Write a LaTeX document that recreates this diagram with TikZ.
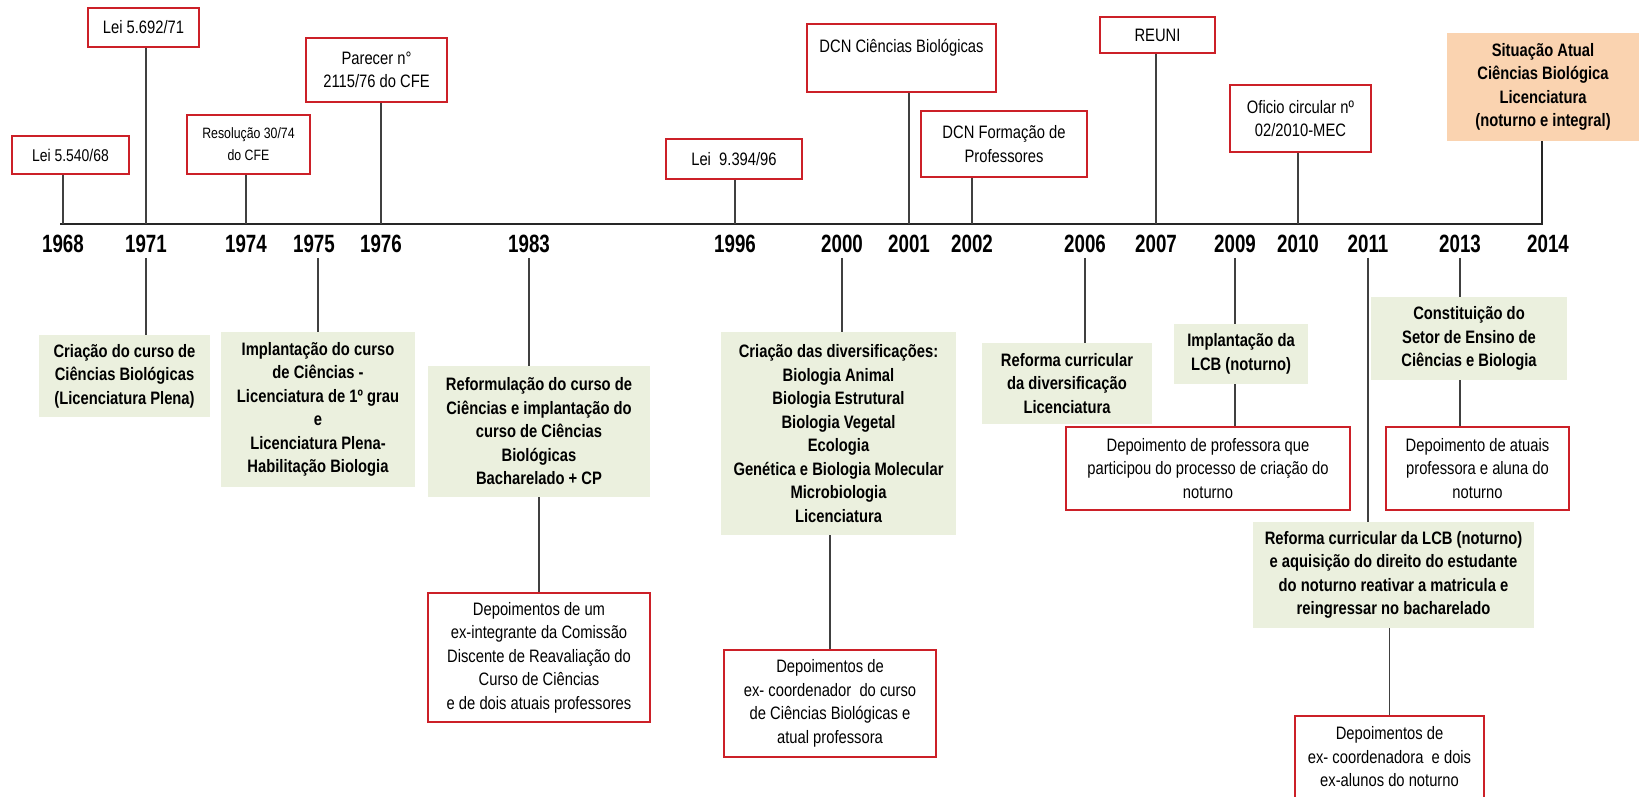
\documentclass[tikz,border=0pt]{standalone}
\usepackage{fontspec}
\setmainfont{Liberation Sans}[FakeStretch=0.82]
\newfontfamily\anofont{Liberation Sans}[FakeStretch=0.75]
\usepackage{tikz}

\definecolor{vermelho}{RGB}{204,32,40}
\definecolor{verde}{RGB}{235,240,222}
\definecolor{pessego}{RGB}{250,211,176}
\definecolor{linha}{RGB}{64,64,64}

\begin{document}
\begin{tikzpicture}[x=1pt,y=-1pt,
	marco/.style={rectangle,draw=vermelho,line width=1.6pt,fill=white,inner sep=0pt,align=center,font=\fontsize{18}{23.5}\selectfont},
	evento/.style={rectangle,fill=verde,inner sep=0pt,align=center,font=\fontsize{18}{23.5}\selectfont\bfseries},
	depo/.style={marco},
	ano/.style={inner sep=0pt,outer sep=5pt,font=\anofont\fontsize{25}{25}\selectfont\bfseries},
	liga/.style={draw=linha,line width=1.5pt}]
	\useasboundingbox (0,0) rectangle (1641,797);

	% linha do tempo
	\coordinate (T0) at (  60, 224);
	\coordinate (T1) at (1542, 224);

	% anos
	\node (a68) at (  63, 244) [ano] {1968};
	\node (a71) at ( 146, 244) [ano] {1971};
	\node (a74) at ( 246, 244) [ano] {1974};
	\node (a75) at ( 314, 244) [ano] {1975};
	\node (a76) at ( 381, 244) [ano] {1976};
	\node (a83) at ( 529, 244) [ano] {1983};
	\node (a96) at ( 735, 244) [ano] {1996};
	\node (a00) at ( 842, 244) [ano] {2000};
	\node (a01) at ( 909, 244) [ano] {2001};
	\node (a02) at ( 972, 244) [ano] {2002};
	\node (a06) at (1085, 244) [ano] {2006};
	\node (a07) at (1156, 244) [ano] {2007};
	\node (a09) at (1235, 244) [ano] {2009};
	\node (a10) at (1298, 244) [ano] {2010};
	\node (a11) at (1368, 244) [ano] {2011};
	\node (a13) at (1460, 244) [ano] {2013};
	\node (a14) at (1548, 244) [ano] {2014};

	% marcos legais (acima)
	\node (L68) at (  70.5, 155)   [marco,minimum width=117,minimum height=38,font=\fontsize{17}{21}\selectfont] {Lei 5.540/68};
	\node (L71) at ( 143.5,  27.5) [marco,minimum width=111,minimum height=39] {Lei 5.692/71};
	\node (R74) at ( 248.5, 144.5) [marco,minimum width=123,minimum height=59,font=\fontsize{15}{22}\selectfont] {Resolução 30/74\\do CFE};
	\node (P76) at ( 376.5,  70)   [marco,minimum width=141,minimum height=64] {Parecer n°\\2115/76 do CFE};
	\node (L96) at ( 734,   159)   [marco,minimum width=136,minimum height=40] {Lei\ \ 9.394/96};
	\node (D01) at ( 901.5,  58)   [marco,minimum width=189,minimum height=68] {DCN Ciências Biológicas\\ \mbox{}};
	\node (D02) at (1004,   144)   [marco,minimum width=166,minimum height=66] {DCN Formação de\\Professores};
	\node (R07) at (1157.5,  35)   [marco,minimum width=115,minimum height=36] {REUNI};
	\node (O10) at (1300.5, 118.5) [marco,minimum width=141,minimum height=67] {Oficio circular nº\\02/2010-MEC};
	\node (S14) at (1543,    87)   [evento,fill=pessego,minimum width=192,minimum height=108] {Situação Atual\\Ciências Biológica\\Licenciatura\\(noturno e integral)};

	% eventos do curso (abaixo)
	\node (E71) at ( 124.5, 376)   [evento,minimum width=171,minimum height=82] {Criação do curso de\\Ciências Biológicas\\(Licenciatura Plena)};
	\node (E75) at ( 318,   409.5) [evento,minimum width=194,minimum height=155] {Implantação do curso\\de Ciências -\\Licenciatura de 1º grau\\e\\Licenciatura Plena-\\Habilitação Biologia};
	\node (E83) at ( 539,   431.5) [evento,minimum width=222,minimum height=131] {Reformulação do curso de\\Ciências e implantação do\\curso de Ciências\\Biológicas\\Bacharelado + CP};
	\node (E00) at ( 838.5, 433.5) [evento,minimum width=235,minimum height=203] {Criação das diversificações:\\Biologia Animal\\Biologia Estrutural\\Biologia Vegetal\\Ecologia\\Genética e Biologia Molecular\\Microbiologia\\Licenciatura};
	\node (E06) at (1067,   383.5) [evento,minimum width=170,minimum height=81] {Reforma curricular\\da diversificação\\Licenciatura};
	\node (E09) at (1241,   354)   [evento,minimum width=134,minimum height=60] {Implantação da\\LCB (noturno)};
	\node (E13) at (1469,   338.5) [evento,minimum width=196,minimum height=83] {Constituição do\\Setor de Ensino de\\Ciências e Biologia};
	\node (E11) at (1393.5, 575)   [evento,minimum width=281,minimum height=106] {Reforma curricular da LCB (noturno)\\e aquisição do direito do estudante\\do noturno reativar a matricula e\\reingressar no bacharelado};

	% depoimentos
	\node (T83) at ( 539,   657.5) [depo,minimum width=222,minimum height=129] {Depoimentos de um\\ex-integrante da Comissão\\Discente de Reavaliação do\\Curso de Ciências\\e de dois atuais professores};
	\node (T00) at ( 830,   703.5) [depo,minimum width=212,minimum height=107] {Depoimentos de\\ex- coordenador\ \ do curso\\de Ciências Biológicas e\\atual professora};
	\node (T09) at (1208,   468.5) [depo,minimum width=284,minimum height=83] {Depoimento de professora que\\participou do processo de criação do\\noturno};
	\node (T13) at (1477.5, 468.5) [depo,minimum width=183,minimum height=83] {Depoimento de atuais\\professora e aluna do\\noturno};
	\node (T11) at (1389.5, 757)   [depo,minimum width=189,minimum height=82] {Depoimentos de\\ex- coordenadora\ \ e dois\\ex-alunos do noturno};

	\draw [liga,line width=2pt,draw=black!85] (T0) -- (T1) -- (S14.south -| T1);
	\draw [liga] (L68.south -| a68) -- (a68 |- T0)
		(L71.south -| a71) -- (a71 |- T0)
		(R74.south -| a74) -- (a74 |- T0)
		(P76.south -| a76) -- (a76 |- T0)
		(L96.south -| a96) -- (a96 |- T0)
		(D01.south -| a01) -- (a01 |- T0)
		(D02.south -| a02) -- (a02 |- T0)
		(R07.south -| a07) -- (a07 |- T0)
		(O10.south -| a10) -- (a10 |- T0);
	\draw [liga] (a71.south) -- (a71 |- E71.north)
		(E75.north |- a75.south) -- (E75.north)
		(a83.south) -- (a83 |- E83.north)
		(a00.south) -- (a00 |- E00.north)
		(a06.south) -- (a06 |- E06.north)
		(a09.south) -- (a09 |- E09.north)
		(a11.south) -- (a11 |- E11.north)
		(a13.south) -- (a13 |- E13.north);
	\draw [liga] (E83.south) -- (T83.north)
		(T00.north |- E00.south) -- (T00.north)
		(E09.south -| a09) -- (T09.north -| a09)
		(E13.south -| a13) -- (T13.north -| a13)
		(T11.north |- E11.south) -- (T11.north);
\end{tikzpicture}
\end{document}
